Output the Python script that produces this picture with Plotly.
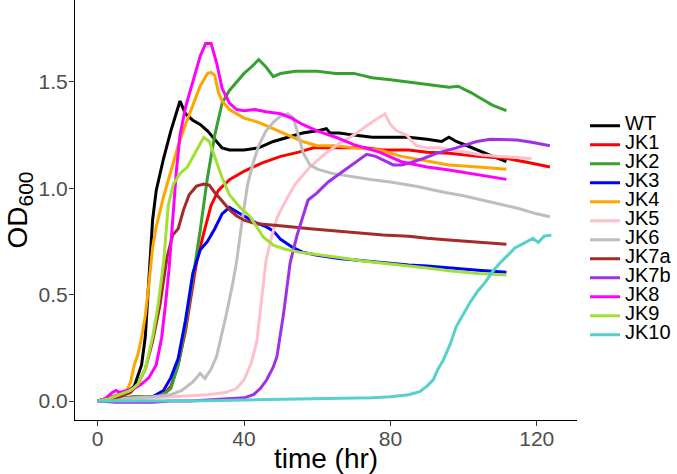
import plotly.graph_objects as go

# ---- data (time in hr, OD600) ----
series_names = ["WT", "JK1", "JK2", "JK3", "JK4", "JK5", "JK6", "JK7a", "JK7b", "JK8", "JK9", "JK10"]
series_colors = ["#000000", "#FF0000", "#36A12E", "#0000FF", "#FFA500", "#FFC0CB",
                 "#BEBEBE", "#A52A2A", "#A030E8", "#FF00FF", "#A2E035", "#55D0CC"]

wt_t = [0, 2, 4, 6, 8, 10, 12, 13, 14, 15, 16, 18, 20, 22.5, 24, 26, 28, 30, 32, 34, 36, 40, 44, 48,
        52, 56, 60, 62.5, 63.5, 66, 70, 75, 80, 85, 90, 94, 96, 98, 101, 105, 108, 111.7]
wt_od = [0.0, 0.01, 0.02, 0.03, 0.04, 0.07, 0.17, 0.30, 0.55, 0.85, 0.99, 1.14, 1.27, 1.41, 1.35, 1.32,
         1.30, 1.27, 1.23, 1.19, 1.18, 1.18, 1.19, 1.22, 1.24, 1.26, 1.27, 1.28, 1.26, 1.26, 1.25, 1.24,
         1.24, 1.24, 1.23, 1.22, 1.24, 1.22, 1.20, 1.17, 1.15, 1.125]

jk1_t = [0, 5, 10, 15, 18, 20, 22, 24, 26, 27, 29, 31, 33, 36, 40, 45, 50, 55, 59, 65, 73, 78, 85, 90,
         96, 104, 112, 118, 123.6]
jk1_od = [0.0, 0.01, 0.02, 0.02, 0.03, 0.07, 0.17, 0.33, 0.53, 0.65, 0.79, 0.92, 0.99, 1.04, 1.08, 1.12,
          1.15, 1.17, 1.19, 1.19, 1.19, 1.18, 1.18, 1.17, 1.165, 1.15, 1.14, 1.12, 1.10]

jk2_t = [0, 5, 10, 15, 18, 20, 22, 24, 26, 28, 30, 32, 34, 36, 38, 40, 42, 44, 46, 48, 50, 54, 60, 65,
         70, 75, 80, 85, 91, 96, 98.5, 102, 105, 108, 111.7]
jk2_od = [0.0, 0.01, 0.02, 0.02, 0.03, 0.06, 0.17, 0.35, 0.57, 0.80, 1.05, 1.25, 1.40, 1.46, 1.50, 1.54,
          1.57, 1.605, 1.57, 1.525, 1.54, 1.55, 1.55, 1.54, 1.54, 1.52, 1.51, 1.50, 1.485, 1.475, 1.48,
          1.45, 1.42, 1.39, 1.365]

jk3_t = [0, 5, 10, 15, 18, 20, 22, 24, 26, 28, 30, 32, 34, 36, 38, 40, 43, 46, 48, 50, 53, 56, 60, 66,
         72, 78, 85, 90, 96, 104, 111.7]
jk3_od = [0.0, 0.01, 0.01, 0.02, 0.05, 0.11, 0.20, 0.38, 0.60, 0.71, 0.75, 0.81, 0.88, 0.91, 0.89, 0.87,
          0.84, 0.82, 0.80, 0.76, 0.725, 0.70, 0.685, 0.67, 0.66, 0.65, 0.64, 0.635, 0.625, 0.615, 0.605]

jk4_t = [0, 2, 4, 6, 8, 9, 10, 11, 12, 13, 14, 15, 16, 18, 20, 22, 24, 26, 28, 30, 31, 32, 33, 34, 36,
         38, 40, 44, 48, 52, 56, 60, 65, 70, 77, 83, 90, 96, 104, 111.7]
jk4_od = [0.0, 0.01, 0.02, 0.03, 0.05, 0.09, 0.17, 0.22, 0.30, 0.40, 0.55, 0.72, 0.82, 0.96, 1.08, 1.20,
          1.30, 1.39, 1.48, 1.54, 1.545, 1.53, 1.45, 1.41, 1.37, 1.35, 1.33, 1.31, 1.28, 1.25, 1.22, 1.20,
          1.20, 1.19, 1.18, 1.15, 1.13, 1.11, 1.10, 1.09]

jk5_t = [0, 5, 10, 15, 20, 25, 30, 35, 38, 40, 42, 43.5, 45, 46, 47.5, 49, 51, 54, 58, 62, 66, 70, 74,
         78.5, 80, 81.7, 84.4, 87, 90, 93, 97, 101, 105, 110, 114, 118.6]
jk5_od = [0.0, 0.005, 0.01, 0.015, 0.02, 0.025, 0.03, 0.04, 0.06, 0.10, 0.18, 0.28, 0.50, 0.66, 0.77,
          0.86, 0.93, 1.02, 1.10, 1.16, 1.21, 1.25, 1.30, 1.35, 1.30, 1.27, 1.25, 1.20, 1.19, 1.19, 1.18,
          1.17, 1.157, 1.15, 1.145, 1.14]

jk6_t = [0, 5, 10, 15, 20, 23, 26, 28, 29.3, 31, 32.5, 34, 35.2, 37, 38, 39.5, 41, 42.5, 44, 46, 48, 50,
         52, 53.5, 55, 56.2, 58, 60, 64, 69, 75, 80, 87, 95, 100, 105, 110, 115, 120, 123.6]
jk6_od = [0.0, 0.01, 0.015, 0.02, 0.03, 0.05, 0.09, 0.13, 0.107, 0.15, 0.21, 0.32, 0.41, 0.56, 0.66,
          0.85, 1.02, 1.12, 1.20, 1.27, 1.31, 1.34, 1.35, 1.33, 1.24, 1.165, 1.11, 1.09, 1.07, 1.055,
          1.04, 1.03, 1.01, 0.98, 0.965, 0.945, 0.925, 0.905, 0.88, 0.866]

jk7a_t = [0, 3, 6, 9, 11, 13, 15, 17, 19, 20.5, 22, 23.5, 25, 27, 29, 30.5, 32, 34, 36, 38, 40, 43, 47,
          52, 58, 65, 72, 78, 85, 90, 96, 104, 111.7]
jk7a_od = [0.0, 0.01, 0.02, 0.04, 0.08, 0.15, 0.28, 0.45, 0.68, 0.78, 0.81, 0.90, 0.97, 1.01, 1.02,
           1.015, 0.98, 0.94, 0.90, 0.87, 0.85, 0.835, 0.827, 0.82, 0.81, 0.80, 0.79, 0.78, 0.775, 0.765,
           0.757, 0.745, 0.737]

jk7b_t = [0, 5, 10, 15, 20, 25, 30, 35, 40, 42.6, 44.5, 46.2, 48, 49, 50.8, 52.6, 54.5, 57.5, 59.8, 63,
          66.2, 70, 73.5, 76, 78, 80.8, 83, 85.4, 89, 92.6, 98, 103.6, 107.3, 110, 114.6, 119, 123.6]
jk7b_od = [0.0, -0.005, -0.005, -0.005, 0.0, 0.0, 0.005, 0.01, 0.015, 0.03, 0.06, 0.10, 0.16, 0.21,
           0.41, 0.65, 0.78, 0.945, 0.976, 1.03, 1.07, 1.12, 1.16, 1.15, 1.133, 1.11, 1.11, 1.12, 1.14,
           1.164, 1.19, 1.22, 1.23, 1.228, 1.227, 1.215, 1.20]

jk8_t = [0, 2, 4, 5, 6, 8, 10, 12, 14, 16, 17.5, 18.5, 19.5, 20.5, 21.5, 22.5, 24, 26, 28, 29.5, 31,
         32.5, 34, 36, 38, 40, 43, 46, 50, 53, 56, 60, 65, 70, 77, 83, 90, 96, 104, 111.7]
jk8_od = [0.0, 0.01, 0.04, 0.05, 0.04, 0.05, 0.06, 0.08, 0.11, 0.17, 0.30, 0.45, 0.62, 0.85, 1.08, 1.25,
          1.38, 1.50, 1.62, 1.68, 1.68, 1.59, 1.47, 1.40, 1.37, 1.365, 1.37, 1.36, 1.35, 1.33, 1.30,
          1.27, 1.24, 1.205, 1.17, 1.125, 1.10, 1.086, 1.065, 1.042]

jk9_t = [0, 3, 6, 9, 11, 13, 15, 16.5, 18, 19.3, 20.7, 22.5, 24.5, 26.5, 28, 29, 30.5, 32, 34, 36, 38.9,
         41.5, 43.4, 45.3, 48, 51, 55, 60, 66, 72, 78, 85, 90, 96, 104, 111.7]
jk9_od = [0.0, 0.01, 0.03, 0.05, 0.08, 0.15, 0.30, 0.45, 0.65, 0.92, 1.02, 1.07, 1.10, 1.16, 1.21, 1.24,
          1.22, 1.15, 1.05, 0.97, 0.91, 0.87, 0.82, 0.77, 0.733, 0.715, 0.70, 0.69, 0.675, 0.66, 0.647,
          0.635, 0.625, 0.612, 0.60, 0.592]

jk10_t = [0, 10, 20, 30, 40, 50, 60, 69, 75, 80, 85, 88, 90, 91.7, 93, 94.4, 96.4, 98, 100, 102, 104,
          106, 108, 110, 112.6, 114, 116.3, 119, 120.4, 122, 124]
jk10_od = [0.0, 0.0, 0.0, 0.002, 0.005, 0.007, 0.01, 0.012, 0.015, 0.02, 0.03, 0.044, 0.07, 0.10, 0.15,
           0.19, 0.27, 0.35, 0.41, 0.47, 0.52, 0.56, 0.61, 0.65, 0.694, 0.72, 0.74, 0.765, 0.745, 0.775,
           0.78]

x_ticks = [0, 40, 80, 120]
y_ticks = [0.0, 0.5, 1.0, 1.5]
y_tick_labels = ["0.0", "0.5", "1.0", "1.5"]

all_t = [wt_t, jk1_t, jk2_t, jk3_t, jk4_t, jk5_t, jk6_t, jk7a_t, jk7b_t, jk8_t, jk9_t, jk10_t]
all_od = [wt_od, jk1_od, jk2_od, jk3_od, jk4_od, jk5_od, jk6_od, jk7a_od, jk7b_od, jk8_od, jk9_od, jk10_od]

FONT = "Liberation Sans, Arial, Helvetica, sans-serif"

fig = go.Figure()
for name, color, t, od in zip(series_names, series_colors, all_t, all_od):
    fig.add_trace(go.Scatter(
        x=t, y=od, mode="lines", name=f'<span style="font-size:20px">{name}</span>',
        line=dict(color=color, width=3),
    ))

fig.update_layout(
    width=677, height=474,
    margin=dict(l=75, r=100, t=0, b=54),
    paper_bgcolor="white", plot_bgcolor="white",
    font=dict(family=FONT, color="#000000"),
    showlegend=True,
    legend=dict(
        x=1.016, xanchor="left", y=0.452, yanchor="middle",
        font=dict(size=12.2, family=FONT, color="#000000"),
        bgcolor="rgba(0,0,0,0)", borderwidth=0, tracegroupgap=0,
        itemwidth=30,
    ),
    xaxis=dict(
        range=[-6.2, 131], tickvals=x_ticks, ticks="outside", ticklen=5, tickwidth=1.1,
        tickcolor="#333333", showline=True, linecolor="#000000", linewidth=1.1,
        showgrid=False, zeroline=False, mirror=False, automargin=False,
        ticklabelstandoff=-5,
        tickfont=dict(size=21, color="#4D4D4D", family=FONT),
        title=dict(text="time (hr)", font=dict(size=28, color="#000000", family=FONT), standoff=0),
    ),
    yaxis=dict(
        range=[-0.089, 1.885], tickvals=y_ticks, ticktext=y_tick_labels, ticks="outside", ticklen=5,
        tickwidth=1.1, tickcolor="#333333", showline=True, linecolor="#000000", linewidth=1.1,
        showgrid=False, zeroline=False, mirror=False, automargin=False,
        ticklabelstandoff=-3,
        tickfont=dict(size=21, color="#4D4D4D", family=FONT),
        title=dict(text='OD<sub><span style="font-size:21px">600</span></sub>',
                   font=dict(size=28, color="#000000", family=FONT), standoff=2),
    ),
)

fig.write_html("out.html", config={"displayModeBar": False},
               post_script="document.body.style.margin='0';")
